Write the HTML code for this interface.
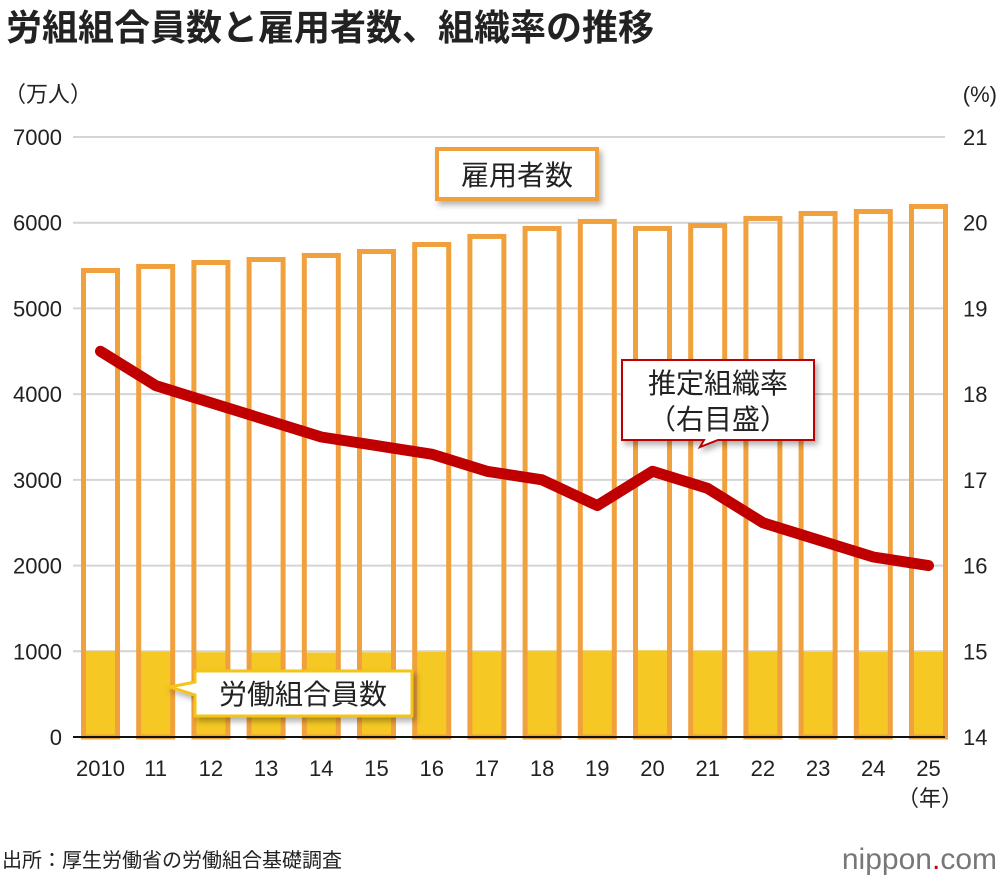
<!DOCTYPE html>
<html><head><meta charset="utf-8"><style>
body{margin:0;background:#fff;font-family:"Liberation Sans","Noto Sans CJK JP",sans-serif;}
svg text{font-family:"Liberation Sans","Noto Sans CJK JP",sans-serif;}
</style></head><body>
<svg width="1000" height="880" viewBox="0 0 1000 880">
<defs><filter id="sh" x="-20%" y="-20%" width="150%" height="160%"><feDropShadow dx="3" dy="4" stdDeviation="3" flood-color="#000" flood-opacity="0.3"/></filter></defs>
<text x="6" y="40" font-size="36" font-weight="bold" fill="#222">労組組合員数と雇用者数、組織率の推移</text>
<text x="4" y="102" font-size="22" fill="#222">（万人）</text>
<text x="997" y="102" font-size="22" fill="#222" text-anchor="end">(%)</text>
<g id="grid"></g><g id="bars"></g><g id="line"></g><g id="axes"></g>
<g>
<rect x="437" y="149" width="160" height="50" fill="#fff" stroke="#f0a03c" stroke-width="4" filter="url(#sh)"/>
<text x="517" y="185" font-size="28" text-anchor="middle" fill="#222">雇用者数</text></g>
<g>
<path d="M622,360 H814 V440 H718 L700,447 L704,440 H622 Z" fill="#fff" stroke="#c00000" stroke-width="2" filter="url(#sh)"/>
<text x="718" y="393" font-size="28" text-anchor="middle" fill="#222">推定組織率</text>
<text x="718" y="429" font-size="28" text-anchor="middle" fill="#222">（右目盛）</text></g>
<g>
<path d="M195,671 H412 V716 H195 V695 L170,687 L195,682 Z" fill="#fff" stroke="#f5c518" stroke-width="3" filter="url(#sh)"/>
<text x="303" y="704" font-size="28" text-anchor="middle" fill="#222">労働組合員数</text></g>
<text x="930" y="806" font-size="22" text-anchor="middle" fill="#222">（年）</text>
<text x="2" y="867" font-size="20" fill="#222">出所：厚生労働省の労働組合基礎調査</text>
<text x="997" y="869" font-size="30" text-anchor="end" fill="#777">nippon<tspan fill="#c00">.</tspan>com</text>
</svg>
<script>
const years=["2010","11","12","13","14","15","16","17","18","19","20","21","22","23","24","25"];
const employees=[5472,5519,5565,5600,5647,5693,5775,5869,5962,6044,5962,5997,6079,6137,6160,6219];
const members=[1005,996,989,987,985,988,994,998,1007,1009,1011,1008,999,994,991,992];
const rate=[18.5,18.1,17.9,17.7,17.5,17.4,17.3,17.1,17.0,16.7,17.1,16.9,16.5,16.3,16.1,16.0];
const leftTicks=[0,1000,2000,3000,4000,5000,6000,7000];
const rightTicks=[14,15,16,17,18,19,20,21];
const NS="http://www.w3.org/2000/svg";
const y0=737,y1=137;
const yL=v=>y0-(v/7000)*(y0-y1);
const yR=v=>y0-((v-14)/7)*(y0-y1);
const xC=i=>100.5+i*55.2;
function mk(t,a,p){const e=document.createElementNS(NS,t);for(const k in a)e.setAttribute(k,a[k]);p.appendChild(e);return e;}
const grid=document.getElementById('grid'),bars=document.getElementById('bars'),line=document.getElementById('line'),axes=document.getElementById('axes');
leftTicks.forEach((v,i)=>{
 if(v>0){const g=mk('line',{x1:73,x2:945,y1:yL(v),y2:yL(v),stroke:'#d4d4d4','stroke-width':2},grid);
 
 }
 const t=mk('text',{x:62,y:yL(v)+8,'font-size':22,'text-anchor':'end',fill:'#222'},axes);t.textContent=v;
 
 
});
rightTicks.forEach(v=>{
 const t=mk('text',{x:963,y:yR(v)+8,'font-size':22,fill:'#222'},axes);t.textContent=v;
 
 
});
years.forEach((y,i)=>{
 const x=xC(i),w=34;
 const m=mk('rect',{x:x-w/2,y:yL(members[i]),width:w,height:y0-yL(members[i]),fill:'#f6c823'},bars);
 
 
 const b=mk('rect',{x:x-w/2,y:yL(employees[i])+2.5,width:w,height:y0-yL(employees[i])-2.5,fill:'none',stroke:'#f0a03c','stroke-width':5},bars);
 
 
 const t=mk('text',{x:x,y:776,'font-size':22,'text-anchor':'middle',fill:'#222'},axes);t.textContent=y;
 
 
});
const ax=mk('line',{x1:73,x2:945,y1:y0,y2:y0,stroke:'#111','stroke-width':2},axes);


const p=mk('polyline',{points:rate.map((v,i)=>xC(i)+','+yR(v)).join(' '),fill:'none',stroke:'#c00000','stroke-width':11,'stroke-linecap':'round','stroke-linejoin':'round'},line);


</script>
</body></html>
